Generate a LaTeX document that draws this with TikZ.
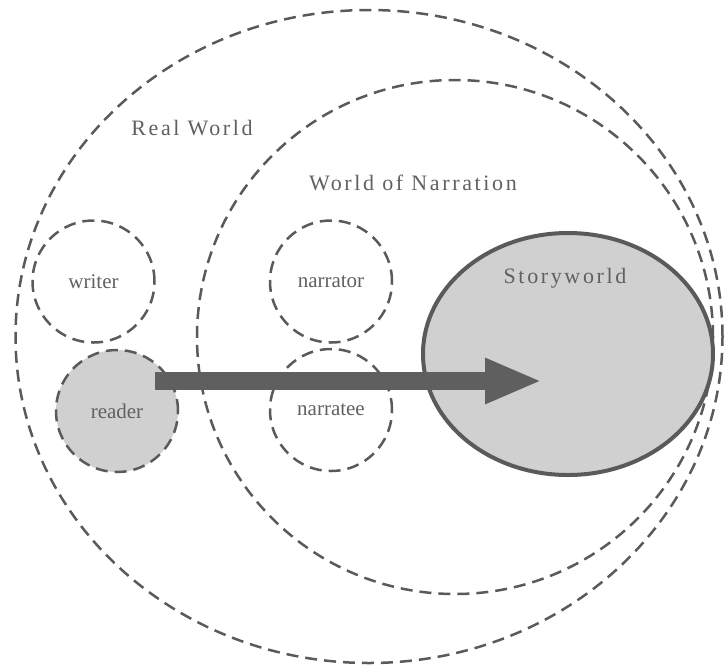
\documentclass[tikz,border=0pt]{standalone}
\usepackage{fontspec}
\setmainfont{Liberation Serif}
\newfontfamily\titlefont[LetterSpace=12]{Liberation Serif}
\usetikzlibrary{arrows.meta,shapes.geometric}
\definecolor{linegray}{HTML}{5A5A5A}
\definecolor{fillgray}{HTML}{D0D0D0}
\definecolor{textgray}{HTML}{606060}
\definecolor{arrowgray}{HTML}{5F5F5F}
\tikzset{
  dashline/.style={draw=linegray, line width=2.5pt, dash pattern=on 12pt off 7pt},
  world/.style={dashline, ellipse, inner sep=0pt},
  agent/.style={dashline, circle, minimum size=122pt, inner sep=0pt, text=textgray, font=\fontsize{21}{24}\selectfont},
  title/.style={text=textgray, font=\titlefont\fontsize{22}{26}\selectfont, inner sep=0pt},
  bigarrow/.style={arrowgray, line width=18pt, -{Triangle[length=57pt,width=42pt]}},
}
\begin{document}
\begin{tikzpicture}[x=1pt,y=-1pt]
\useasboundingbox (0,0) rectangle (726,665);
% worlds
\node[world, minimum width=707pt, minimum height=653pt] (real) at (369,336.5) {};
\node[world, minimum width=516pt, minimum height=514pt] (narration) at (455,337) {};
\node[ellipse, draw=linegray, line width=4pt, fill=fillgray, inner sep=0pt,
      minimum width=290pt, minimum height=242pt] (story) at (568,354) {};
% agents
\node[agent] (writer) at (93.5,281.5) {writer};
\node[agent, fill=fillgray] (reader) at (117,411) {reader};
\node[agent] (narrator) at (331,281.5) {narrator};
\node[agent] (narratee) at (331,410) {narratee};
% labels
\node[title] (rw) at (192,128) {Real World};
\node[title] (won) at (413,183) {World of Narration};
\node[title] (swl) at (565,278) {Storyworld};
% arrow
\coordinate (arrowstart) at (155,381);
\coordinate (arrowtip) at (542,381);
\draw[bigarrow] (arrowstart) -- (arrowtip);
\end{tikzpicture}
\end{document}
